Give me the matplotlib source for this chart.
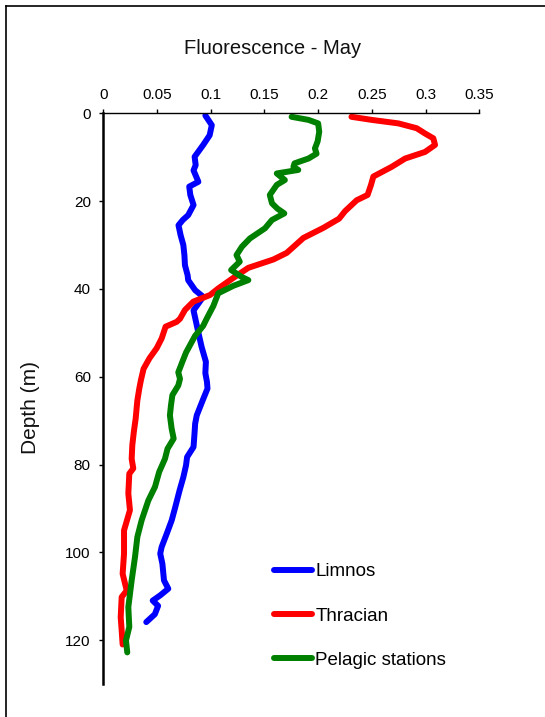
import matplotlib
matplotlib.use("Agg")
import matplotlib.pyplot as plt
from matplotlib.lines import Line2D
import numpy as np

plt.rcParams["font.family"] = ["Liberation Sans", "DejaVu Sans"]

# ---------------------------------------------------------------------------
# Fluorescence profiles, May (depth in m, fluorescence units)
# ---------------------------------------------------------------------------
limnos_depth = [0.5, 2.7, 5.0, 7.2, 9.9, 11.8, 13.0, 15.6, 16.7, 18.6,
                20.9, 23.2, 24.3, 25.5, 27.8, 30.0, 32.3, 34.6, 36.9, 38.0,
                40.3, 41.8, 44.9, 49.4, 53.2, 56.6, 59.2, 61.2, 62.7, 65.4,
                68.8, 70.7, 72.6, 76.0, 78.3, 80.2, 82.9, 85.9, 89.7, 92.7,
                95.8, 98.8, 100.3, 102.6, 106.4, 108.3, 109.8, 111.0, 112.2, 114.1,
                115.9]
limnos_fluo = [0.095, 0.101, 0.099, 0.093, 0.085, 0.086, 0.084, 0.0885, 0.080, 0.081,
               0.084, 0.079, 0.074, 0.070, 0.072, 0.0745, 0.0755, 0.076, 0.0785, 0.079,
               0.0855, 0.093, 0.084, 0.088, 0.0915, 0.0955, 0.095, 0.0965, 0.097, 0.0925,
               0.087, 0.0855, 0.085, 0.084, 0.078, 0.077, 0.0745, 0.071, 0.067, 0.0637,
               0.059, 0.0543, 0.053, 0.055, 0.0565, 0.0605, 0.053, 0.046, 0.051, 0.048,
               0.040]

thracian_depth = [0.8, 1.5, 2.3, 3.4, 4.6, 5.7, 7.2, 8.8, 10.3, 12.2,
                  14.4, 16.3, 18.6, 19.8, 22.3, 24.0, 26.1, 28.4, 30.8, 31.8,
                  33.3, 35.2, 37.5, 39.9, 41.4, 42.9, 44.8, 46.8, 47.5, 48.6,
                  51.3, 53.5, 55.8, 58.2, 60.8, 62.7, 65.4, 69.6, 72.4, 75.6,
                  78.7, 80.9, 82.1, 86.6, 90.4, 95.0, 100.3, 104.9, 108.7, 110.2,
                  114.8, 117.8, 121.0]
thracian_fluo = [0.231, 0.2498, 0.2747, 0.2917, 0.2995, 0.3072, 0.3088, 0.2995, 0.281, 0.2684,
                 0.2514, 0.2492, 0.246, 0.2359, 0.225, 0.2195, 0.2048, 0.1862, 0.1753, 0.1707,
                 0.1583, 0.135, 0.121, 0.107, 0.0993, 0.0838, 0.076, 0.0714, 0.0683, 0.058,
                 0.0543, 0.0497, 0.0430, 0.0375, 0.0350, 0.0335, 0.0317, 0.0301, 0.0285, 0.027,
                 0.0264, 0.0279, 0.0242, 0.0233, 0.0248, 0.0193, 0.0193, 0.018, 0.0218, 0.0171,
                 0.0162, 0.0171, 0.018]

pelagic_depth = [0.8, 1.5, 2.3, 4.2, 6.4, 8.0, 9.2, 10.3, 11.4, 12.2,
                 12.9, 13.7, 15.2, 16.3, 18.6, 20.5, 21.7, 22.8, 24.3, 26.2,
                 28.5, 30.4, 32.3, 33.8, 35.7, 37.3, 38.0, 39.3, 41.0, 43.9,
                 46.8, 48.4, 50.7, 54.5, 56.6, 59.0, 60.5, 62.0, 64.2, 66.5,
                 68.8, 71.8, 74.1, 76.4, 78.7, 81.7, 85.1, 88.2, 92.7, 96.5,
                 101.1, 106.4, 112.5, 117.0, 120.1, 122.8]
pelagic_fluo = [0.1753, 0.191, 0.200, 0.201, 0.1995, 0.197, 0.1985, 0.191, 0.178, 0.177,
                0.1815, 0.1615, 0.169, 0.1615, 0.155, 0.157, 0.162, 0.1685, 0.157, 0.1505,
                0.1365, 0.129, 0.124, 0.127, 0.119, 0.129, 0.135, 0.121, 0.107, 0.1024,
                0.0962, 0.093, 0.0854, 0.077, 0.0736, 0.0698, 0.0714, 0.0698, 0.0643, 0.063,
                0.062, 0.0636, 0.0655, 0.0598, 0.0574, 0.052, 0.0481, 0.0419, 0.0357, 0.0317,
                0.0295, 0.0264, 0.0233, 0.0242, 0.0211, 0.0223]

series = [
    ("Limnos",           limnos_fluo,   limnos_depth,   "#0000FF"),
    ("Thracian",         thracian_fluo, thracian_depth, "#FF0000"),
    ("Pelagic stations", pelagic_fluo,  pelagic_depth,  "#008000"),
]

x_ticks = [0, 0.05, 0.1, 0.15, 0.2, 0.25, 0.3, 0.35]
y_ticks = [0, 20, 40, 60, 80, 100, 120]

W, H = 545, 717
fig = plt.figure(figsize=(W / 100, H / 100), dpi=100)

# axes placed in pixel terms
left, right, top, bottom = 103.3, 479.3, 113.3, 684
ax = fig.add_axes([left / W, 1 - bottom / H, (right - left) / W, (bottom - top) / H])

for label, x, d, color in series:
    ax.plot(x, d, color=color, lw=4.3, solid_capstyle="round",
            solid_joinstyle="round", label=label)

ax.set_xlim(0, 0.35)
ax.set_ylim(130, 0)
ax.xaxis.tick_top()
ax.set_xticks(x_ticks)
ax.set_xticklabels([f"{v:g}" for v in x_ticks])
ax.set_yticks(y_ticks)
ax.tick_params(axis="both", direction="out", length=3, width=1,
               labelsize=11, pad=5, colors="black")
ax.tick_params(axis="y", pad=6)
ax.spines[["bottom", "right"]].set_visible(False)
ax.spines["top"].set_linewidth(1.0)
ax.spines["left"].set_linewidth(1.8)

fig.text(30 / W, 1 - 407 / H, "Depth (m)", rotation=90, ha="center", va="center",
         fontsize=15, color="#111111")

fig.text(0.5, 1 - 48 / H, "Fluorescence - May", ha="center", va="center",
         fontsize=14.5, color="#111111")

ax.legend(loc="center left", bbox_to_anchor=(274 / W, 1 - 616 / H),
          bbox_transform=fig.transFigure, frameon=False, fontsize=13.5,
          handlelength=2.0, handletextpad=0.2, labelspacing=1.45,
          borderpad=0, borderaxespad=0)

# outer frame (left and top edges)
fig.add_artist(Line2D([6 / W, 6 / W], [0, 1 - 6 / H], transform=fig.transFigure,
                      color="black", lw=1.2))
fig.add_artist(Line2D([6 / W, 1], [1 - 6 / H, 1 - 6 / H], transform=fig.transFigure,
                      color="black", lw=1.2))

fig.savefig("out.png", dpi=100)
